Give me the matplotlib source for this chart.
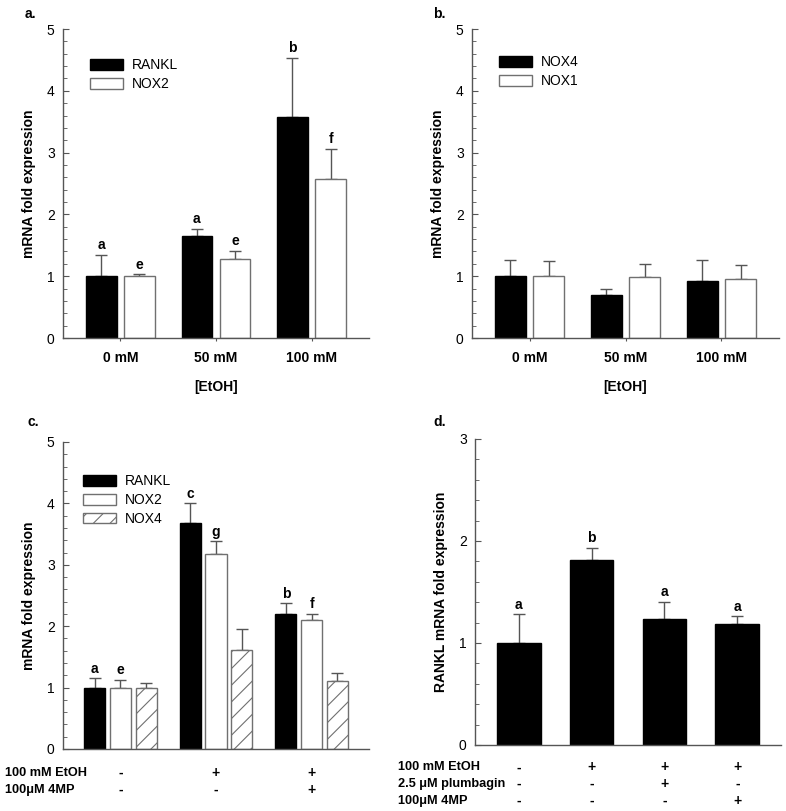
import matplotlib
matplotlib.use("Agg")
import matplotlib.pyplot as plt
from matplotlib.patches import Patch
from matplotlib.ticker import MultipleLocator
import numpy as np

plt.rcParams['font.family'] = ['Liberation Sans', 'DejaVu Sans']
plt.rcParams['hatch.linewidth'] = 0.8

# panel a
doses = ["0 mM", "50 mM", "100 mM"]
rankl_a = [1.0, 1.65, 3.58]
rankl_a_err = [0.35, 0.11, 0.95]
nox2_a = [1.0, 1.28, 2.57]
nox2_a_err = [0.03, 0.13, 0.49]
rankl_a_sig = ["a", "a", "b"]
nox2_a_sig = ["e", "e", "f"]

# panel b
nox4_b = [1.0, 0.70, 0.92]
nox4_b_err = [0.27, 0.10, 0.35]
nox1_b = [1.0, 0.99, 0.96]
nox1_b_err = [0.25, 0.20, 0.22]

# panel c
rankl_c = [1.0, 3.68, 2.20]
rankl_c_err = [0.15, 0.32, 0.17]
nox2_c = [1.0, 3.17, 2.10]
nox2_c_err = [0.12, 0.21, 0.10]
nox4_c = [1.0, 1.61, 1.10]
nox4_c_err = [0.07, 0.35, 0.13]
rankl_c_sig = ["a", "c", "b"]
nox2_c_sig = ["e", "g", "f"]
c_rows = ["100 mM EtOH", "100\u03bcM 4MP"]
c_signs = [["-", "+", "+"], ["-", "-", "+"]]

# panel d
rankl_d = [1.0, 1.81, 1.24, 1.19]
rankl_d_err = [0.28, 0.12, 0.16, 0.07]
rankl_d_sig = ["a", "b", "a", "a"]
d_rows = ["100 mM EtOH", "2.5 \u03bcM plumbagin", "100\u03bcM 4MP"]
d_signs = [["-", "+", "+", "+"], ["-", "-", "+", "-"], ["-", "-", "-", "+"]]

EDGE = "#707070"
W, H = 786, 811
fig = plt.figure(figsize=(W / 100, H / 100), dpi=100)


def px_axes(left, right, top, bottom):
    return fig.add_axes([left / W, (H - bottom) / H, (right - left) / W, (bottom - top) / H])


def style(ax, ymax, ylabel):
    for s in ["top", "right"]:
        ax.spines[s].set_visible(False)
    for s in ["left", "bottom"]:
        ax.spines[s].set_color("#555555")
        ax.spines[s].set_linewidth(1)
    ax.set_ylim(0, ymax)
    ax.yaxis.set_major_locator(MultipleLocator(1))
    ax.yaxis.set_minor_locator(MultipleLocator(0.2))
    ax.tick_params(axis="y", which="both", direction="in", color="#555555")
    ax.tick_params(axis="y", which="major", length=4, labelsize=10, pad=6)
    ax.tick_params(axis="y", which="minor", length=3)
    ax.set_ylabel(ylabel, fontsize=10, fontweight="bold", labelpad=8)


def bars(ax, x, vals, errs, color, hatch=None, width=0.32, sig=None):
    ax.bar(x, vals, width, color=color, edgecolor=EDGE if color == "white" else "black",
           linewidth=1, hatch=hatch, zorder=2)
    ax.errorbar(x, vals, yerr=[np.zeros(len(vals)), errs], fmt="none", ecolor="#555555",
                elinewidth=1, capsize=4.5, capthick=1, zorder=1)
    if sig:
        for xi, v, e, s in zip(x, vals, errs, sig):
            ax.annotate(s, (xi, v + e), xytext=(0, 2), textcoords="offset points",
                        ha="center", va="bottom", fontsize=10, fontweight="bold")


def legend(ax, handles, labels, anchor):
    ax.legend(handles, labels, loc="upper left", bbox_to_anchor=anchor, frameon=False,
              fontsize=10, handlelength=2.4, handleheight=0.8, handletextpad=0.6,
              labelspacing=0.35, borderpad=0, borderaxespad=0)


def xaxis_doses(ax):
    ax.set_xlim(-0.6, 2.6)
    ax.set_xticks(x)
    ax.set_xticklabels(doses, fontsize=10, fontweight="bold")
    ax.tick_params(axis="x", length=2.5, color="#555555", pad=7)
    ax.set_xlabel("[EtOH]", fontsize=10, fontweight="bold", labelpad=11)


black_h = Patch(facecolor="black", edgecolor="black")
white_h = Patch(facecolor="white", edgecolor=EDGE)
hatch_h = Patch(facecolor="white", edgecolor=EDGE, hatch="//")

# ---- a
ax = px_axes(63, 369, 29, 338)
x = np.arange(len(doses))
bars(ax, x - 0.2, rankl_a, rankl_a_err, "black", sig=rankl_a_sig)
bars(ax, x + 0.2, nox2_a, nox2_a_err, "white", sig=nox2_a_sig)
style(ax, 5, "mRNA fold expression")
xaxis_doses(ax)
legend(ax, [black_h, white_h], ["RANKL", "NOX2"], (0.088, 0.905))

# ---- b
ax = px_axes(472, 779, 29, 338)
bars(ax, x - 0.2, nox4_b, nox4_b_err, "black")
bars(ax, x + 0.2, nox1_b, nox1_b_err, "white")
style(ax, 5, "mRNA fold expression")
xaxis_doses(ax)
legend(ax, [black_h, white_h], ["NOX4", "NOX1"], (0.088, 0.915))

# ---- c
ax = px_axes(63, 369, 442, 749)
bars(ax, x - 0.27, rankl_c, rankl_c_err, "black", width=0.22, sig=rankl_c_sig)
bars(ax, x, nox2_c, nox2_c_err, "white", width=0.22, sig=nox2_c_sig)
bars(ax, x + 0.27, nox4_c, nox4_c_err, "white", hatch="//", width=0.22)
style(ax, 5, "mRNA fold expression")
ax.set_xlim(-0.6, 2.6)
ax.set_xticks([])
legend(ax, [black_h, white_h, hatch_h], ["RANKL", "NOX2", "NOX4"], (0.065, 0.895))
for r, (lab, signs) in enumerate(zip(c_rows, c_signs)):
    yy = -0.078 - 0.056 * r
    fig.text(5 / W, (H - 749 + yy * 307) / H, lab, fontsize=9.2, fontweight="bold", va="center")
    for xi, s in zip(x, signs):
        ax.text(xi, yy, s, transform=ax.get_xaxis_transform(), ha="center", va="center",
                fontsize=10, fontweight="bold")

# ---- d
ax = px_axes(475, 781, 439, 745)
xd = np.arange(len(rankl_d))
bars(ax, xd, rankl_d, rankl_d_err, "black", width=0.6, sig=rankl_d_sig)
style(ax, 3, "RANKL mRNA fold expression")
ax.set_xlim(-0.6, 3.6)
ax.set_xticks([])
for r, (lab, signs) in enumerate(zip(d_rows, d_signs)):
    yy = -0.073 - 0.055 * r
    fig.text(398 / W, (H - 745 + yy * 306) / H, lab, fontsize=9.2, fontweight="bold", va="center")
    for xi, s in zip(xd, signs):
        ax.text(xi, yy, s, transform=ax.get_xaxis_transform(), ha="center", va="center",
                fontsize=10, fontweight="bold")

# panel letters
for lab, px, py in [("a.", 25, 14), ("b.", 433, 14), ("c.", 27, 422), ("d.", 433, 422)]:
    fig.text(px / W, 1 - py / H, lab, fontsize=10, fontweight="bold", va="center")

fig.savefig("out.png", dpi=100)
